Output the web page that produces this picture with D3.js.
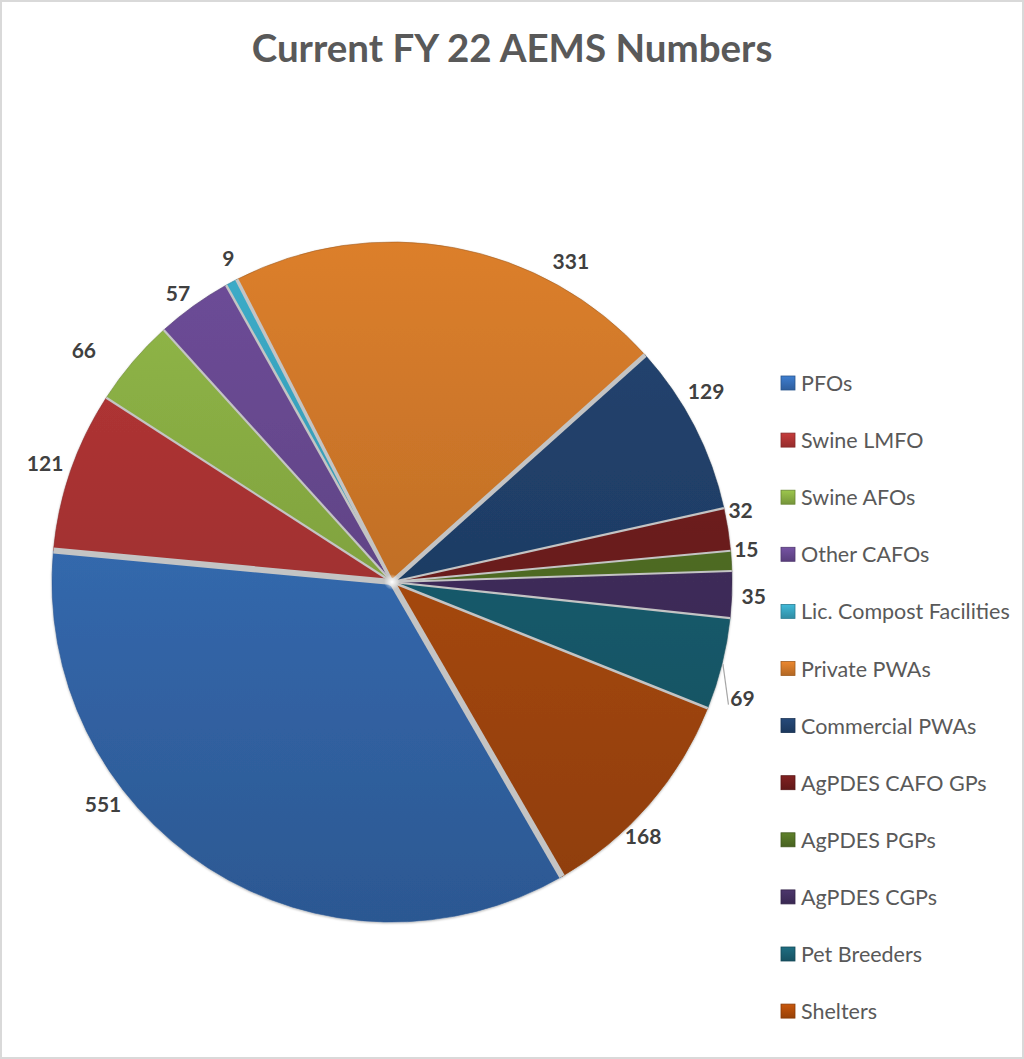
<!DOCTYPE html>
<html>
<head>
<meta charset="utf-8">
<script src="https://cdn.jsdelivr.net/npm/d3@7"></script>
<style>
  html, body { margin: 0; padding: 0; background: #fff; }
  svg { display: block; }
</style>
</head>
<body>
<svg id="chart" width="1024" height="1059"></svg>
<script>
// Facility counts for the current fiscal year
const categories = [
  "PFOs", "Swine LMFO", "Swine AFOs", "Other CAFOs", "Lic. Compost Facilities",
  "Private PWAs", "Commercial PWAs", "AgPDES CAFO GPs", "AgPDES PGPs",
  "AgPDES CGPs", "Pet Breeders", "Shelters"
];
const counts = [551, 121, 66, 57, 9, 331, 129, 32, 15, 35, 69, 168];
// Colour at the top of the pie; each slice darkens toward the bottom
const sliceColors = [
  "#3a75c2", "#b83737", "#92b948", "#6e4d99", "#3cadca",
  "#dc7f2c", "#234572", "#781f1f", "#587828", "#473265", "#1c6679", "#bb510a"
];
// Label placement: angular nudge (degrees) and distance from the centre
const labelNudge  = [19.9, 0, -3.3, -0.8, 1.4, 18.6, -4.2, -2.8, -1.9, 0, 4.3, 4.4];
const labelRadius = [364, 367, 386, 360, 363, 368, 368, 356, 356, 362, 369, 357];
// Width of the separator drawn at the start edge of each slice
const sepWidth = [6, 6, 2.2, 2.2, 2.5, 3.5, 4.5, 2.2, 2, 2, 2.2, 2.5];
const titleText = "Current FY 22 AEMS Numbers";

const W = 1024, H = 1059;
const cx = 392, cy = 582, R = 340;
const svg = d3.select("#chart");
const defs = svg.append("defs");

// Outer frame
svg.append("rect").attr("x", 1).attr("y", 1).attr("width", W - 2).attr("height", H - 2)
  .attr("fill", "#fff").attr("stroke", "#d9d9d9").attr("stroke-width", 2);

svg.append("text")
  .attr("x", 512).attr("y", 62)
  .attr("text-anchor", "middle")
  .attr("font-family", "Lato, 'Open Sans', sans-serif")
  .attr("font-weight", "bold")
  .attr("font-size", 38.5)
  .attr("fill", "#595959")
  .text(titleText);

const data = categories.map((c, i) => ({ name: c, value: counts[i], i }));
const pie = d3.pie().value(d => d.value).sort(null)
  .startAngle(150 * Math.PI / 180)
  .endAngle(150 * Math.PI / 180 + 2 * Math.PI);
const arcs = pie(data);
const arc = d3.arc().innerRadius(0).outerRadius(R);

// Vertical shading for each slice (coordinates relative to the pie centre)
data.forEach((d, i) => {
  const top = d3.color(sliceColors[i]);
  const g = defs.append("linearGradient").attr("id", "g" + i)
    .attr("gradientUnits", "userSpaceOnUse")
    .attr("x1", 0).attr("y1", -R).attr("x2", 0).attr("y2", R);
  g.append("stop").attr("offset", "0%").attr("stop-color", top.formatHex());
  g.append("stop").attr("offset", "100%").attr("stop-color", top.darker(0.8).formatHex());
  const lg = defs.append("linearGradient").attr("id", "lg" + i)
    .attr("x1", 0).attr("y1", 0).attr("x2", 0).attr("y2", 1);
  lg.append("stop").attr("offset", "0%").attr("stop-color", top.brighter(0.2).formatHex());
  lg.append("stop").attr("offset", "100%").attr("stop-color", top.darker(0.6).formatHex());
});

const shadow = defs.append("filter").attr("id", "sh").attr("x", "-10%").attr("y", "-10%")
  .attr("width", "120%").attr("height", "120%");
shadow.append("feDropShadow").attr("dx", 0).attr("dy", 1).attr("stdDeviation", 1.2)
  .attr("flood-color", "#000").attr("flood-opacity", 0.3);

const glow = defs.append("radialGradient").attr("id", "glow");
glow.append("stop").attr("offset", "0%").attr("stop-color", "#fff").attr("stop-opacity", 1);
glow.append("stop").attr("offset", "100%").attr("stop-color", "#fff").attr("stop-opacity", 0);

const pieG = svg.append("g").attr("transform", `translate(${cx},${cy})`);
const sliceG = pieG.append("g").attr("filter", "url(#sh)");
sliceG.selectAll("path.slice").data(arcs).join("path")
  .attr("class", "slice")
  .attr("d", arc)
  .attr("fill", d => `url(#g${d.data.i})`)
  .attr("stroke", d => d3.color(sliceColors[d.data.i]).darker(0.8).formatHex())
  .attr("stroke-width", 0.6);

// Light separators between neighbouring slices
const toXY = (ang, r) => [Math.sin(ang) * r, -Math.cos(ang) * r];
pieG.selectAll("line.sep").data(arcs).join("line")
  .attr("class", "sep")
  .attr("x1", 0).attr("y1", 0)
  .attr("x2", d => toXY(d.startAngle, R)[0])
  .attr("y2", d => toXY(d.startAngle, R)[1])
  .attr("stroke", "#c4c4c4")
  .attr("stroke-width", d => sepWidth[d.data.i]);

pieG.append("circle").attr("r", 4).attr("fill", "#c4c4c4");
pieG.append("circle").attr("r", 8).attr("fill", "url(#glow)");

// Value labels
arcs.forEach((a, k) => {
  const mid = (a.startAngle + a.endAngle) / 2 + labelNudge[k] * Math.PI / 180;
  const [lx, ly] = toXY(mid, labelRadius[k]);
  pieG.append("text")
    .attr("x", lx).attr("y", ly)
    .attr("text-anchor", "middle").attr("dominant-baseline", "central")
    .attr("font-family", "Lato, 'Open Sans', sans-serif")
    .attr("font-weight", "bold").attr("font-size", 21)
    .attr("fill", "#404040")
    .text(a.data.value);
  if (categories[k] === "Pet Breeders") {
    const m0 = (a.startAngle + a.endAngle) / 2;
    const [x0, y0] = toXY(m0, R + 1);
    pieG.append("line")
      .attr("x1", x0).attr("y1", y0).attr("x2", lx - 14).attr("y2", ly + 7)
      .attr("stroke", "#a6a6a6").attr("stroke-width", 1.2);
  }
});

// Legend
const legend = svg.append("g").attr("transform", "translate(781,383)");
const rows = legend.selectAll("g").data(data).join("g")
  .attr("transform", (d, i) => `translate(0,${i * 57.1})`);
rows.append("rect").attr("x", 0).attr("y", -7).attr("width", 14).attr("height", 14)
  .attr("fill", d => `url(#lg${d.i})`)
  .attr("stroke", d => d3.color(sliceColors[d.i]).darker(0.9).formatHex()).attr("stroke-width", 0.8);
rows.append("text").attr("x", 20).attr("y", 0)
  .attr("dominant-baseline", "central")
  .attr("font-family", "Lato, 'Open Sans', sans-serif")
  .attr("font-size", 21.5).attr("fill", "#595959")
  .text(d => d.name);
</script>
</body>
</html>
